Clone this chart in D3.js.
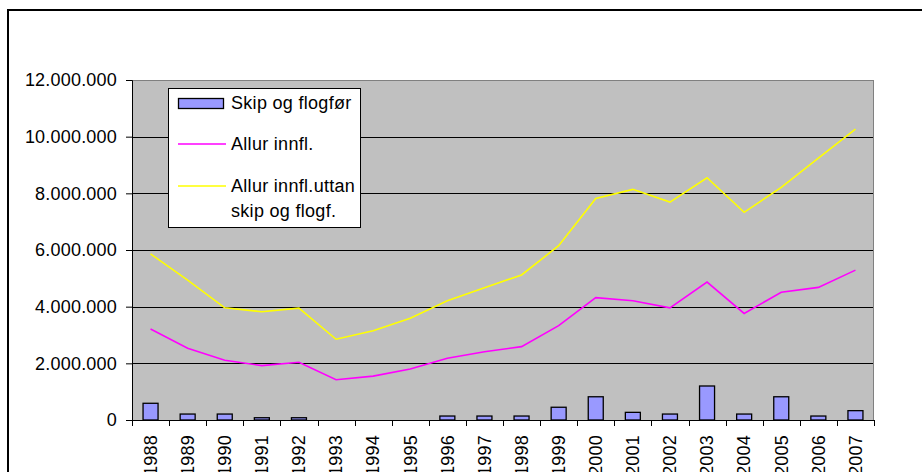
<!DOCTYPE html>
<html><head><meta charset="utf-8">
<script src="https://cdn.jsdelivr.net/npm/d3@7"></script>
<style>
html,body{margin:0;padding:0;background:#fff;}
svg{display:block;font-family:"Liberation Sans",Arial,sans-serif;}
</style></head>
<body>
<svg id="chart" width="922" height="472"></svg>
<script>
const years = ["1988","1989","1990","1991","1992","1993","1994","1995","1996","1997","1998","1999","2000","2001","2002","2003","2004","2005","2006","2007"];
const skipOgFlogfor = [590000,210000,210000,80000,80000,0,0,0,140000,140000,140000,450000,820000,270000,210000,1200000,210000,820000,140000,330000];
const allurInnfl = [3210000,2530000,2110000,1920000,2040000,1420000,1550000,1800000,2180000,2410000,2590000,3330000,4320000,4210000,3960000,4870000,3760000,4510000,4680000,5290000];
const allurUttan = [5860000,4940000,3960000,3820000,3950000,2850000,3150000,3590000,4210000,4670000,5120000,6150000,7820000,8140000,7690000,8550000,7330000,8210000,9240000,10270000];
const yTicks = [0,2000000,4000000,6000000,8000000,10000000,12000000];
const yTickLabels = ["0","2.000.000","4.000.000","6.000.000","8.000.000","10.000.000","12.000.000"];
const legendLabels = [["Skip og flogfør"],["Allur innfl."],["Allur innfl.uttan","skip og flogf."]];

const svg = d3.select("#chart");
const L = 132, R = 874, T = 80, B = 420;

// outer border
svg.append("rect").attr("x",8).attr("y",10).attr("width",940).attr("height",500)
  .attr("fill","#fff").attr("stroke","#000").attr("stroke-width",2);

const x = d3.scaleBand().domain(years).range([L,R]);
const y = d3.scaleLinear().domain([0,12000000]).range([B,T]);

// plot area
svg.append("rect").attr("x",L).attr("y",T).attr("width",R-L).attr("height",B-T)
  .attr("fill","#C0C0C0");

// gridlines
svg.append("g").selectAll("line").data(yTicks.filter(d=>d>0 && d<12000000)).join("line")
  .attr("x1",L).attr("x2",R).attr("y1",d=>Math.round(y(d))+0.5).attr("y2",d=>Math.round(y(d))+0.5)
  .attr("stroke","#000").attr("stroke-width",1);

// plot border
svg.append("rect").attr("x",L+0.5).attr("y",T+0.5).attr("width",R-L-1).attr("height",B-T)
  .attr("fill","none").attr("stroke","#808080").attr("stroke-width",1);

// bars
const bw = 15;
svg.append("g").selectAll("rect").data(years).join("rect")
  .attr("x",(d)=>x(d)+x.bandwidth()/2-bw/2)
  .attr("y",(d,i)=>y(skipOgFlogfor[i]))
  .attr("width",bw)
  .attr("height",(d,i)=>B-y(skipOgFlogfor[i]))
  .attr("fill","#9999FF").attr("stroke","#000").attr("stroke-width",1.3);

// lines
const line = d3.line().x((d,i)=>x(years[i])+x.bandwidth()/2).y(d=>y(d));
svg.append("path").datum(allurInnfl).attr("d",line).attr("fill","none")
  .attr("stroke","#FF00FF").attr("stroke-width",1.6);
svg.append("path").datum(allurUttan).attr("d",line).attr("fill","none")
  .attr("stroke","#FFFF00").attr("stroke-width",1.6);

// y axis
const yAxis = d3.axisLeft(y).tickValues(yTicks).tickSize(6).tickPadding(9)
  .tickFormat((d,i)=>yTickLabels[i]);
const gy = svg.append("g").attr("transform",`translate(${L},0)`).call(yAxis);
gy.select(".domain").attr("stroke","#000");
gy.selectAll(".tick line").attr("stroke","#000");
gy.selectAll("text").attr("font-size",18).attr("fill","#000")
  .attr("font-family","'Liberation Sans',Arial,sans-serif").attr("letter-spacing","0.2px");

// x axis
const xAxis = d3.axisBottom(x).tickSize(0).tickFormat(d=>d);
const gx = svg.append("g").attr("transform",`translate(0,${B})`).call(xAxis);
gx.select(".domain").attr("stroke","#000");
gx.selectAll(".tick text").attr("font-size",18).attr("fill","#000")
  .attr("font-family","'Liberation Sans',Arial,sans-serif").attr("letter-spacing","0.2px")
  .attr("text-anchor","end").attr("transform","rotate(-90)")
  .attr("x",-15).attr("y",0).attr("dy","0.35em");
// x tick marks at band boundaries
const bounds = years.map(d=>x(d)).concat([R]);
gx.append("g").selectAll("line").data(bounds).join("line")
  .attr("x1",d=>Math.round(d)+0.5).attr("x2",d=>Math.round(d)+0.5).attr("y1",0).attr("y2",6)
  .attr("stroke","#000");

// legend
const lg = svg.append("g");
lg.append("rect").attr("x",168.5).attr("y",88.5).attr("width",192).attr("height",139)
  .attr("fill","#fff").attr("stroke","#000").attr("stroke-width",1);
lg.append("rect").attr("x",178.5).attr("y",98.5).attr("width",45).attr("height",10)
  .attr("fill","#9999FF").attr("stroke","#000").attr("stroke-width",1.3);
lg.append("line").attr("x1",178).attr("x2",226).attr("y1",144).attr("y2",144)
  .attr("stroke","#FF00FF").attr("stroke-width",1.6);
lg.append("line").attr("x1",178).attr("x2",226).attr("y1",186).attr("y2",186)
  .attr("stroke","#FFFF00").attr("stroke-width",1.6);
const ly = [103,144,186];
legendLabels.forEach((lines,k)=>{
  lines.forEach((t,j)=>{
    lg.append("text").attr("x",231).attr("y",ly[k]+j*24.5).attr("dy","0.35em")
      .attr("font-size",18).attr("letter-spacing","0.3px").attr("fill","#000").text(t);
  });
});
</script>
</body></html>
